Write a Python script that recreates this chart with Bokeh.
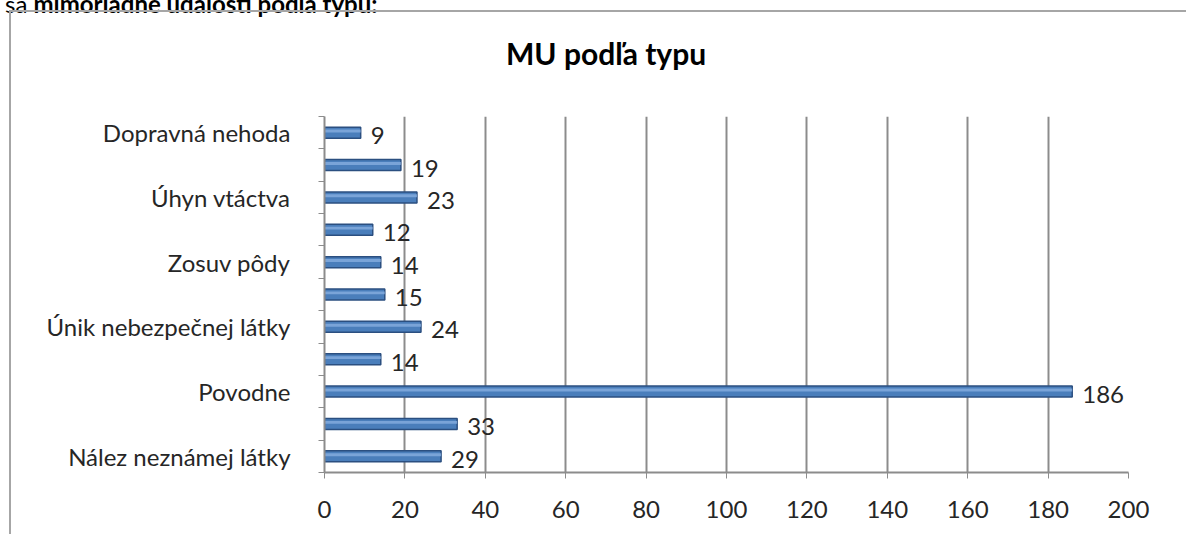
from bokeh.plotting import figure
from bokeh.models import FixedTicker, ColumnDataSource, Range1d, Div
from bokeh.layouts import column
from bokeh.core.properties import value
from bokeh.embed import file_html
from bokeh.resources import INLINE

# categories from bottom to top ("" = category without a printed label)
categories = ["Nález neznámej látky", "", "Povodne", "", "Únik nebezpečnej látky", "",
              "Zosuv pôdy", "", "Úhyn vtáctva", "", "Dopravná nehoda"]
counts = [29, 33, 186, 14, 24, 15, 14, 12, 23, 19, 9]
x_ticks = [0, 20, 40, 60, 80, 100, 120, 140, 160, 180, 200]
chart_title = "MU podľa typu"
heading_plain = "sa"
heading_bold = "mimoriadne udalosti podľa typu:"

FONT = "Lato"
positions = list(range(1, len(categories) + 1))
src = ColumnDataSource(dict(y=positions, v=counts, lab=[str(c) for c in counts],
                            hy=[p + 0.05 for p in positions]))

p = figure(width=1165, height=432, x_range=Range1d(0, 200), y_range=Range1d(0.5, 11.5),
           output_backend="svg", toolbar_location=None,
           min_border_left=313, min_border_right=48, min_border_top=14, min_border_bottom=62)
p.outline_line_color = None
p.background_fill_color = "white"

p.hbar(y="y", left=0, right="v", height=0.34, source=src,
       fill_color="#4a7ebb", line_color="#2b4f80", line_width=1.5)
p.hbar(y="hy", left=0, right="v", height=0.09, source=src,
       fill_color="#86aee0", line_color=None, fill_alpha=0.8)

p.text(x="v", y="y", text="lab", source=src, x_offset=10, y_offset=3,
       text_font=value(FONT), text_font_size="24px", text_color="#262626",
       text_baseline="middle", text_align="left")

# x axis
p.xaxis.ticker = FixedTicker(ticks=x_ticks)
p.xaxis.axis_line_color = "#8c8c8c"
p.xaxis.axis_line_width = 2
p.xaxis.major_tick_line_color = "#8c8c8c"
p.xaxis.major_tick_out = 6
p.xaxis.major_tick_in = 0
p.xaxis.minor_tick_line_color = None
p.xaxis.major_label_standoff = 22
p.xaxis.major_label_text_font = FONT
p.xaxis.major_label_text_font_size = "24px"
p.xaxis.major_label_text_color = "#262626"

# y axis
label_pos = [pos for pos, c in zip(positions, categories) if c]
p.yaxis.ticker = FixedTicker(ticks=label_pos,
                             minor_ticks=[pos - 0.5 for pos in positions] + [positions[-1] + 0.5])
p.yaxis.major_label_overrides = {pos: c for pos, c in zip(positions, categories) if c}
p.yaxis.axis_line_color = "#8c8c8c"
p.yaxis.axis_line_width = 2
p.yaxis.major_tick_line_color = None
p.yaxis.minor_tick_line_color = "#8c8c8c"
p.yaxis.minor_tick_out = 6
p.yaxis.minor_tick_in = 0
p.yaxis.major_label_standoff = 28
p.yaxis.major_label_text_font = FONT
p.yaxis.major_label_text_font_size = "24px"
p.yaxis.major_label_text_color = "#262626"

p.xgrid.ticker = FixedTicker(ticks=x_ticks)
p.xgrid.grid_line_color = "#8c8c8c"
p.xgrid.grid_line_width = 2
p.ygrid.grid_line_color = None

head = Div(text=f"{heading_plain} <b>{heading_bold}</b>", width=600, height=24,
           styles={"margin-top": "-8px", "font-family": FONT, "font-size": "24px",
                   "line-height": "24px", "color": "#000000", "white-space": "nowrap"})

title_div = Div(text=f"<b>{chart_title}</b>", width=1165, height=80,
                styles={"font-family": FONT, "font-size": "30px", "line-height": "72px",
                        "text-indent": "490px", "color": "#000000", "white-space": "nowrap"})

chart = column(title_div, p, spacing=0,
               styles={"margin-left": "9px", "margin-top": "-11px",
                       "border-left": "2px solid #a6a6a6", "border-top": "2px solid #a6a6a6"})

page = column(head, chart, spacing=0)

open("out.html", "w").write(file_html(page, INLINE))
